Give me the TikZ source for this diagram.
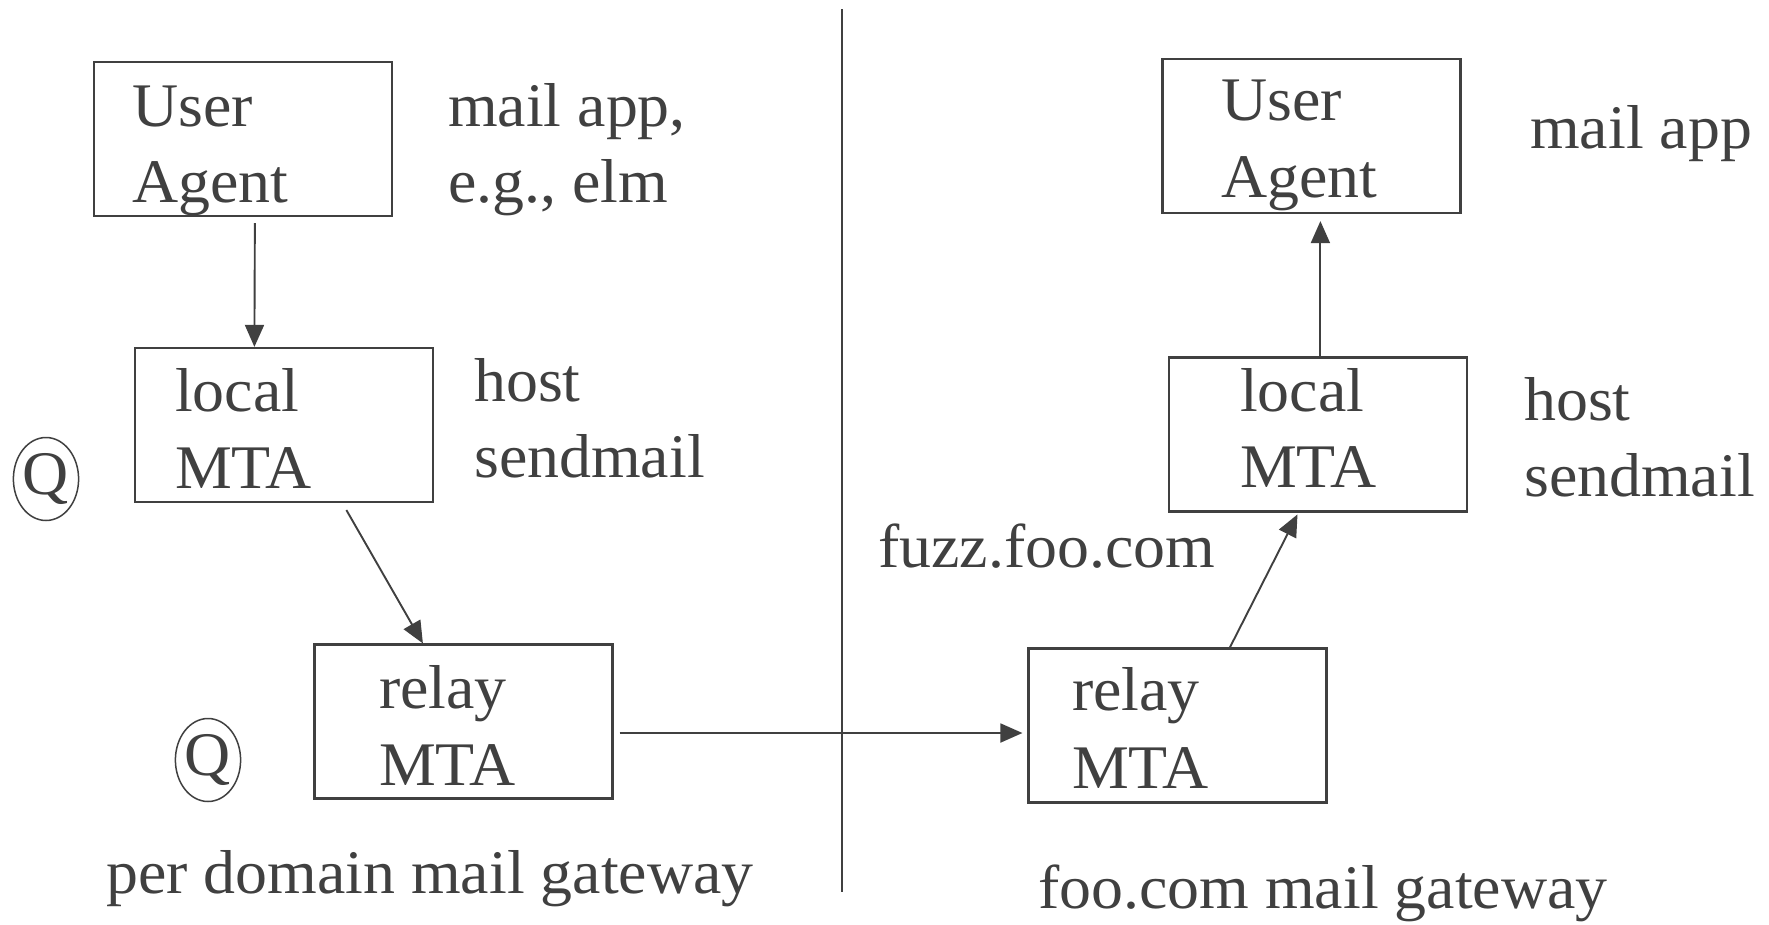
\documentclass[tikz,border=0pt]{standalone}
\usepackage{fontspec}
\setmainfont{Liberation Serif}[FakeStretch=1.03]
\usetikzlibrary{arrows.meta,shapes.geometric}
\definecolor{ink}{HTML}{404040}
\begin{document}
\begin{tikzpicture}[x=1pt,y=-1pt,
  every node/.style={text=ink},
  box/.style={draw=ink, line width=2.2pt, minimum width=298pt, minimum height=154pt, inner sep=0pt},
  txt/.style={anchor=base west, inner sep=0pt, font=\fontsize{62}{70}\selectfont},
  arr/.style={draw=ink, line width=1.9pt, -{Triangle[length=22pt,width=19pt]}},
  queue/.style={ellipse, draw=ink, line width=1.5pt, minimum width=65pt, minimum height=83pt, inner sep=0pt, font=\fontsize{62}{70}\selectfont}
]
\useasboundingbox[fill=white] (0,0) rectangle (1769,924);

% sending side
\node[box] (uaL)    at (243,139)   {};
\node[box] (mtaL)   at (284,425)   {};
\node[box] (relayL) at (463.5,721.5) {};

\node[txt] (uaL1) at (132,126) {User};
\node[txt] (uaL2) at (132,202) {Agent};
\node[txt] (appL1) at (448,126) {mail app,};
\node[txt] (appL2) at (448,202) {e.g., elm};
\node[txt] (mtaL1) at (175,411) {local};
\node[txt] (mtaL2) at (175,488) {MTA};
\node[txt] (hostL1) at (474,401) {host};
\node[txt] (hostL2) at (474,477) {sendmail};
\node[txt] (relayL1) at (379,708) {relay};
\node[txt] (relayL2) at (379,785) {MTA};
\node[txt] (gwL) at (106,893) {per domain mail gateway};

\node[queue] (qL1) at (46,479) {Q};
\node[queue] (qL2) at (208,760) {Q};

% receiving side
\node[box] (uaR)    at (1311.5,136)  {};
\node[box] (mtaR)   at (1318,434.5)  {};
\node[box] (relayR) at (1177.5,725.5) {};

\node[txt] (uaR1) at (1221,120) {User};
\node[txt] (uaR2) at (1221,197) {Agent};
\node[txt] (appR) at (1530,148) {mail app};
\node[txt] (mtaR1) at (1240,411) {local};
\node[txt] (mtaR2) at (1240,487) {MTA};
\node[txt] (hostR1) at (1524,420) {host};
\node[txt] (hostR2) at (1524,496) {sendmail};
\node[txt] (fuzz) at (878,567) {fuzz.foo.com};
\node[txt] (relayR1) at (1072,710) {relay};
\node[txt] (relayR2) at (1072,788) {MTA};
\node[txt] (gwR) at (1038,908) {foo.com mail gateway};

% divider between the two domains
\coordinate (divtop) at (842,9);
\coordinate (divbot) at (842,892);
\draw[ink, line width=1.8pt] (divtop) -- (divbot);

% message path
\draw[arr, shorten <=6pt] ([xshift=162pt]uaL.south west) -- ([xshift=120.5pt]mtaL.north west);
\draw[arr, shorten <=8pt] ([xshift=208.5pt]mtaL.south west) -- ([xshift=109.5pt]relayL.north west);
\coordinate (hop) at ([xshift=6pt,yshift=-11.5pt]relayL.east);
\draw[arr, shorten >=5pt] (hop) -- (hop -| relayR.west);
\draw[arr, shorten >=2pt] ([xshift=202.5pt]relayR.north west) -- ([xshift=130.5pt]mtaR.south west);
\draw[arr, shorten >=7pt] ([xshift=152.5pt]mtaR.north west) -- ([xshift=152.5pt]mtaR.north west |- uaR.south);
\end{tikzpicture}
\end{document}
